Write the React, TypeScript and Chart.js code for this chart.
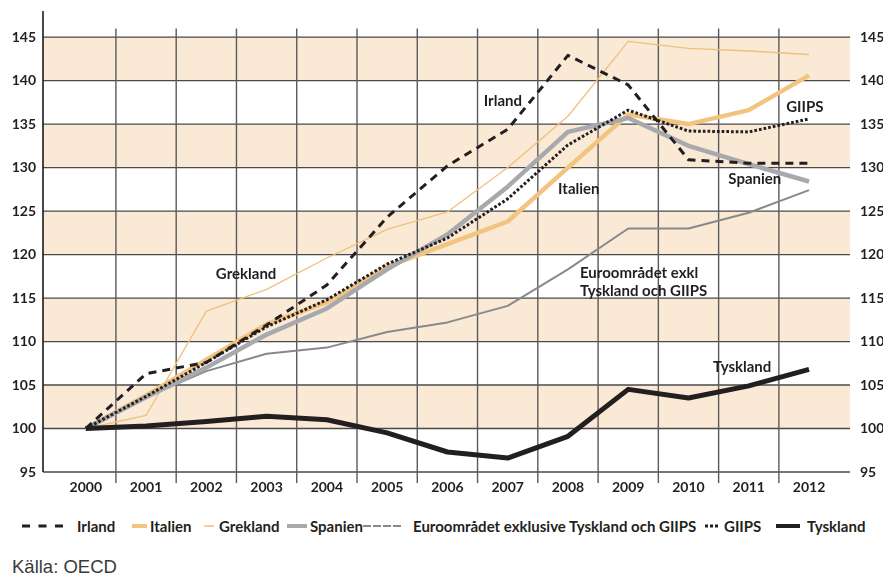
import { useEffect, useRef } from "react";
import { Chart, registerables } from "chart.js";
Chart.register(...registerables);

const years = [2000, 2001, 2002, 2003, 2004, 2005, 2006, 2007, 2008, 2009, 2010, 2011, 2012];
const irland = [100, 106.3, 107.6, 111.9, 116.5, 124.3, 130.2, 134.4, 142.9, 139.5, 130.9, 130.5, 130.5];
const italien = [100, 103.8, 107.9, 112.0, 114.5, 118.6, 121.2, 123.8, 130.0, 136.1, 135.0, 136.6, 140.6];
const grekland = [100, 101.5, 113.5, 116.0, 119.6, 122.9, 124.9, 130.0, 135.9, 144.5, 143.7, 143.4, 143.0];
const spanien = [100, 103.6, 107.0, 110.8, 113.8, 118.3, 122.3, 127.8, 134.1, 135.7, 132.5, 130.4, 128.4];
const euro = [100, 103.6, 106.6, 108.6, 109.3, 111.1, 112.2, 114.1, 118.3, 123.0, 123.0, 124.8, 127.4];
const giips = [100, 103.7, 107.6, 111.7, 114.8, 118.9, 121.9, 126.4, 132.6, 136.6, 134.2, 134.1, 135.6];
const tyskland = [100, 100.3, 100.8, 101.4, 101.0, 99.5, 97.3, 96.6, 99.1, 104.5, 103.5, 104.9, 106.8];

const yTicks = [95, 100, 105, 110, 115, 120, 125, 130, 135, 140, 145];
const bands = [[100, 105], [110, 115], [120, 125], [130, 135], [140, 145]];
const gridYears = [2000.5, 2001.5, 2002.5, 2003.5, 2004.5, 2005.5, 2006.5, 2007.5, 2008.5, 2009.5, 2010.5, 2011.5];

const annotations = [
  { lines: ["Irland"], x: 2006.92, y: 137.6, align: "center" },
  { lines: ["Italien"], x: 2008.18, y: 127.5, align: "center" },
  { lines: ["Grekland"], x: 2002.66, y: 117.7, align: "center" },
  { lines: ["GIIPS"], x: 2011.93, y: 136.9, align: "center" },
  { lines: ["Spanien"], x: 2011.1, y: 128.65, align: "center" },
  { lines: ["Euroområdet exkl", "Tyskland och GIIPS"], x: 2008.2, y: 117.85, align: "left" },
  { lines: ["Tyskland"], x: 2010.89, y: 107.0, align: "center" },
];

const BLACK = "#231F20";
const PEACH = "#F2C47F";
const PEACH_THIN = "#EFC17C";
const GRAY = "#A8A9AD";
const DGRAY = "#88898C";
const BAND = "#FAE9D5";

const legendItems = [
  { label: "Irland", left: 22, textLeft: 77, w: 41, kind: "dash" },
  { label: "Italien", left: 132, textLeft: 150, w: 15, kind: "peachThick" },
  { label: "Grekland", left: 204, textLeft: 219, w: 10, kind: "peachThin" },
  { label: "Spanien", left: 287, textLeft: 310, w: 20, kind: "grayThick" },
  { label: "Euroområdet exklusive Tyskland och GIIPS", left: 363, textLeft: 413, w: 40, kind: "grayDash" },
  { label: "GIIPS", left: 705, textLeft: 724, w: 13, kind: "dot" },
  { label: "Tyskland", left: 776, textLeft: 807, w: 24, kind: "solid" },
];

function Sample({ kind, w }: { kind: string; w: number }) {
  const h = 8;
  let el: any = null;
  if (kind === "dash") el = <line x1={0} y1={4} x2={w} y2={4} stroke={BLACK} strokeWidth={3} strokeDasharray="8 8.5" />;
  if (kind === "peachThick") el = <line x1={0} y1={4} x2={w} y2={4} stroke={PEACH} strokeWidth={4} />;
  if (kind === "peachThin") el = <line x1={0} y1={4} x2={w} y2={4} stroke={PEACH_THIN} strokeWidth={1.5} />;
  if (kind === "grayThick") el = <line x1={0} y1={4} x2={w} y2={4} stroke={GRAY} strokeWidth={4} />;
  if (kind === "grayDash") el = <line x1={0} y1={4} x2={w} y2={4} stroke={DGRAY} strokeWidth={2} strokeDasharray="8 2" />;
  if (kind === "dot") el = <line x1={0} y1={4} x2={w} y2={4} stroke={BLACK} strokeWidth={3} strokeDasharray="3 2" />;
  if (kind === "solid") el = <line x1={0} y1={4} x2={w} y2={4} stroke={BLACK} strokeWidth={4} />;
  return (
    <svg width={w} height={h} style={{ display: "block" }}>
      {el}
    </svg>
  );
}

const gridPlugin = {
  id: "gridBands",
  beforeDatasetsDraw(chart: any) {
    const { ctx, chartArea: a, scales } = chart;
    const x = scales.x;
    const y = scales.y;
    ctx.save();
    ctx.fillStyle = BAND;
    for (const [lo, hi] of bands) {
      const y1 = y.getPixelForValue(hi);
      const y2 = y.getPixelForValue(lo);
      ctx.fillRect(a.left, y1, a.right - a.left, y2 - y1);
    }
    ctx.strokeStyle = "#4a4a4a";
    ctx.lineWidth = 1.3;
    for (const v of yTicks) {
      const py = y.getPixelForValue(v);
      ctx.beginPath();
      ctx.moveTo(a.left, py);
      ctx.lineTo(a.right, py);
      ctx.stroke();
    }
    ctx.strokeStyle = "#5a5a5a";
    ctx.lineWidth = 1.4;
    const vTop = y.getPixelForValue(146);
    for (const g of gridYears) {
      const px = x.getPixelForValue(g);
      ctx.beginPath();
      ctx.moveTo(px, vTop);
      ctx.lineTo(px, a.bottom + 11);
      ctx.stroke();
    }
    ctx.strokeStyle = "#1a1a1a";
    ctx.lineWidth = 1.6;
    ctx.beginPath();
    ctx.moveTo(a.left, a.top);
    ctx.lineTo(a.left, a.bottom);
    ctx.stroke();
    ctx.restore();
  },
  afterDatasetsDraw(chart: any) {
    const { ctx, scales } = chart;
    const x = scales.x;
    const y = scales.y;
    ctx.save();
    ctx.fillStyle = BLACK;
    ctx.font = "bold 15px Lato, sans-serif";
    ctx.textBaseline = "middle";
    for (const an of annotations) {
      const px = x.getPixelForValue(an.x);
      const py = y.getPixelForValue(an.y);
      ctx.textAlign = an.align;
      an.lines.forEach((t, i) => ctx.fillText(t, px, py + i * 18));
    }
    ctx.restore();
  },
};

export default function App() {
  const ref = useRef<HTMLCanvasElement>(null);
  useEffect(() => {
    if (!ref.current) return;
    const tickFont = { family: "Lato, sans-serif", weight: "bold" as const, size: 14 };
    const mk = (data: number[], color: string, width: number, dash: number[] = []) => ({
      data: years.map((yr, i) => ({ x: yr, y: data[i] })),
      borderColor: color,
      borderWidth: width,
      borderDash: dash,
      pointRadius: 0,
      tension: 0,
      fill: false,
      borderJoinStyle: "round" as const,
      borderCapStyle: "butt" as const,
    });
    const fixV = (w: number) => (s: any) => {
      s.width = w;
      s.paddingTop = 0;
      s.paddingBottom = 0;
    };
    const chart = new Chart(ref.current, {
      type: "line",
      data: {
        datasets: [
          { label: "Tyskland", ...mk(tyskland, BLACK, 5) },
          { label: "Irland", ...mk(irland, BLACK, 3, [8, 6]) },
          { label: "GIIPS", ...mk(giips, BLACK, 3, [2.7, 2]) },
          { label: "Spanien", ...mk(spanien, GRAY, 4.5) },
          { label: "Italien", ...mk(italien, PEACH, 4.5) },
          { label: "Grekland", ...mk(grekland, PEACH_THIN, 1.3) },
          { label: "Euroområdet exklusive Tyskland och GIIPS", ...mk(euro, DGRAY, 2) },
        ],
      },
      options: {
        animation: false,
        responsive: true,
        maintainAspectRatio: false,
        layout: { padding: { top: 11, left: 0, right: 0, bottom: 0 } },
        plugins: { legend: { display: false }, tooltip: { enabled: false } },
        scales: {
          x: {
            type: "linear",
            min: 1999.29,
            max: 2012.68,
            grid: { display: false, drawTicks: false },
            border: { display: false },
            afterBuildTicks: (s: any) => {
              s.ticks = years.map((v) => ({ value: v }));
            },
            afterFit: (s: any) => {
              s.height = 33;
              s.paddingLeft = 0;
              s.paddingRight = 0;
            },
            ticks: {
              font: tickFont,
              color: BLACK,
              padding: 7,
              maxRotation: 0,
              autoSkip: false,
              callback: (v: any) => String(v),
            },
          },
          y: {
            position: "left",
            min: 95,
            max: 148,
            grid: { display: false, drawTicks: false },
            border: { display: false },
            afterBuildTicks: (s: any) => {
              s.ticks = yTicks.map((v) => ({ value: v }));
            },
            afterFit: fixV(43),
            ticks: { font: tickFont, color: BLACK, padding: 7, callback: (v: any) => String(v) },
          },
          y2: {
            position: "right",
            min: 95,
            max: 148,
            grid: { display: false, drawTicks: false },
            border: { display: false },
            afterBuildTicks: (s: any) => {
              s.ticks = yTicks.map((v) => ({ value: v }));
            },
            afterFit: fixV(33),
            ticks: { font: tickFont, color: BLACK, padding: 10, callback: (v: any) => String(v) },
          },
        },
      },
      plugins: [gridPlugin as any],
    });
    return () => chart.destroy();
  }, []);

  return (
    <div
      style={{
        position: "absolute",
        left: 0,
        top: 0,
        width: 883,
        height: 575,
        background: "#fff",
        fontFamily: "Lato, sans-serif",
        overflow: "hidden",
      }}
    >
      <div style={{ position: "absolute", left: 0, top: 0, width: 883, height: 505 }}>
        <canvas ref={ref} />
      </div>
      {legendItems.map((it) => (
        <div key={it.label}>
          <div style={{ position: "absolute", left: it.left, top: 522 }}>
            <Sample kind={it.kind} w={it.w} />
          </div>
          <div
            style={{
              position: "absolute",
              left: it.textLeft,
              top: 516,
              fontSize: 15,
              fontWeight: 700,
              color: BLACK,
              lineHeight: "20px",
              whiteSpace: "nowrap",
            }}
          >
            {it.label}
          </div>
        </div>
      ))}
      <div
        style={{
          position: "absolute",
          left: 12,
          top: 556,
          fontFamily: "'Liberation Sans', Arial, sans-serif",
          fontSize: 18.5,
          color: "#3a3a3a",
          lineHeight: "22px",
          whiteSpace: "nowrap",
        }}
      >
        Källa: OECD
      </div>
    </div>
  );
}
